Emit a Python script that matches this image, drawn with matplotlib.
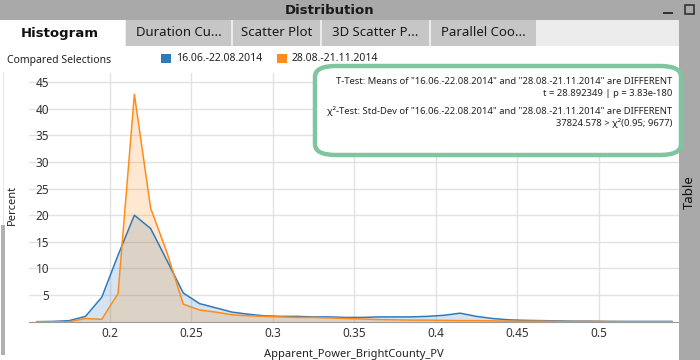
import matplotlib
matplotlib.use('Agg')
import matplotlib.pyplot as plt
from matplotlib.patches import Rectangle, FancyBboxPatch

plt.rcParams['font.family'] = ['Noto Sans', 'DejaVu Sans']

# bin centres of the histogram (Apparent_Power_BrightCounty_PV)
bin_centers = [0.155, 0.165, 0.175, 0.185, 0.195, 0.205, 0.215, 0.225, 0.235, 0.245,
               0.255, 0.265, 0.275, 0.285, 0.295, 0.305, 0.315, 0.325, 0.335, 0.345,
               0.355, 0.365, 0.375, 0.385, 0.395, 0.405, 0.415, 0.425, 0.435, 0.445,
               0.455, 0.465, 0.475, 0.485, 0.495, 0.505, 0.515, 0.525, 0.535, 0.545]

# percent per bin, first selection (blue)
summer_pct = [0.0, 0.05, 0.2, 1.0, 4.6, 12.5, 20.0, 17.5, 11.5, 5.4,
              3.4, 2.6, 1.8, 1.4, 1.1, 1.0, 1.0, 0.9, 0.9, 0.8,
              0.8, 0.9, 0.9, 0.9, 1.0, 1.2, 1.6, 1.0, 0.6, 0.35,
              0.25, 0.2, 0.15, 0.1, 0.1, 0.05, 0.05, 0.05, 0.05, 0.05]

# percent per bin, second selection (orange)
autumn_pct = [0.0, 0.0, 0.0, 0.6, 0.45, 5.3, 42.7, 21.3, 13.0, 3.3,
              2.2, 1.8, 1.3, 1.1, 1.0, 0.9, 0.8, 0.8, 0.7, 0.6,
              0.5, 0.4, 0.35, 0.3, 0.3, 0.25, 0.2, 0.2, 0.15, 0.1,
              0.1, 0.1, 0.05, 0.05, 0.05, 0.05, 0.0, 0.0, 0.0, 0.0]

series_names = ['16.06.-22.08.2014', '28.08.-21.11.2014']
x_ticks = [0.2, 0.25, 0.3, 0.35, 0.4, 0.45, 0.5]
y_ticks = [5, 10, 15, 20, 25, 30, 35, 40, 45]
tab_names = ['Histogram', 'Duration Cu...', 'Scatter Plot', '3D Scatter P...', 'Parallel Coo...']

blue = '#2f7ab9'
orange = '#ff8c1a'

W, H = 700, 360
fig = plt.figure(figsize=(7, 3.6), dpi=100)
fig.patch.set_facecolor('white')


def px_rect(x0, y0, x1, y1, color, z=0):
    # rectangle given in pixel coordinates from the top-left corner
    fig.patches.append(Rectangle((x0 / W, 1 - y1 / H), (x1 - x0) / W, (y1 - y0) / H,
                                 transform=fig.transFigure, facecolor=color,
                                 edgecolor='none', zorder=z))


# window chrome
px_rect(0, 0, 700, 20, '#a9a9a9')
fig.text(330 / W, 1 - 10 / H, 'Distribution', ha='center', va='center',
         fontsize=9.5, fontweight='bold', family='DejaVu Sans', color='#1a1a1a')
px_rect(663, 12, 673, 14, '#333333')
fig.patches.append(Rectangle((685 / W, 1 - 14 / H), 9 / W, 9 / H, transform=fig.transFigure,
                             facecolor='none', edgecolor='#333333', lw=1.2))

px_rect(0, 20, 679, 46, '#ececec')
tab_edges = [(0, 125), (126, 231), (233, 320), (322, 429), (431, 536)]
for i, (name, (a, b)) in enumerate(zip(tab_names, tab_edges)):
    if i == 0:
        px_rect(a, 20, b, 47, 'white')
        fig.text((a + b) / 2 / W - 0.004, 1 - 34 / H, name, ha='center', va='center',
                 fontsize=9.5, fontweight='bold', family='DejaVu Sans', color='#111111')
    else:
        px_rect(a, 20, b, 46, '#c6c6c6')
        fig.text((a + b) / 2 / W, 1 - 33 / H, name, ha='center', va='center',
                 fontsize=9.5, color='#1a1a1a')

px_rect(679, 20, 700, 360, '#a9a9a9')
fig.text(689 / W, 1 - 192 / H, 'Table', rotation=90, ha='center', va='center',
         fontsize=9.5, color='#111111')

# scroll bar on the left
px_rect(1, 225, 5, 355, '#b0b0b0')
px_rect(3, 72, 4, 225, '#e4e4e4')

# legend row
fig.text(7 / W, 1 - 60 / H, 'Compared Selections', ha='left', va='center',
         fontsize=7.5, color='#222222')
px_rect(161, 54, 171, 63, blue, 3)
fig.text(176 / W, 1 - 58.5 / H, series_names[0], ha='left', va='center',
         fontsize=7.5, color='#222222')
px_rect(277, 54, 287, 63, orange, 3)
fig.text(292 / W, 1 - 58.5 / H, series_names[1], ha='left', va='center',
         fontsize=7.5, color='#222222')

# plot area
ax = fig.add_axes([28.5 / W, (H - 321.7) / H, (680 - 28.5) / W, (321.7 - 73) / H])
ax.fill_between(bin_centers, summer_pct, color=blue, alpha=0.2, lw=0)
ax.plot(bin_centers, summer_pct, color=blue, lw=1.1)
ax.fill_between(bin_centers, autumn_pct, color=orange, alpha=0.2, lw=0)
ax.plot(bin_centers, autumn_pct, color=orange, lw=1.1)

ax.set_xlim(0.15, 0.55)
ax.set_ylim(0, 46.7)
ax.set_xticks(x_ticks)
ax.set_xticklabels([str(t) for t in x_ticks])
ax.set_yticks(y_ticks)
ax.grid(True, color='#e2e2e2', lw=1)
ax.set_axisbelow(True)
for side in ['top', 'right', 'left']:
    ax.spines[side].set_visible(False)
ax.spines['bottom'].set_color('#9a9a9a')
ax.tick_params(axis='both', length=0, labelsize=8.5, colors='#333333')
ax.tick_params(axis='y', pad=-15)
ax.tick_params(axis='x', pad=4)
ax.set_ylabel('Percent', fontsize=8, color='#222222')
ax.yaxis.set_label_coords(-0.017, 0.47)
ax.set_xlabel('Apparent_Power_BrightCounty_PV', fontsize=8, color='#222222', labelpad=6)

# statistics box
box = FancyBboxPatch((315 / W, 1 - 155 / H), 366 / W, 89 / H,
                     boxstyle='round,pad=0,rounding_size=0.03', transform=fig.transFigure,
                     facecolor='white', edgecolor='#7fc6a0', lw=3.2, zorder=5)
fig.patches.append(box)
stat_lines = [
    'T-Test: Means of "16.06.-22.08.2014" and "28.08.-21.11.2014" are DIFFERENT',
    't = 28.892349 | p = 3.83e-180',
    'χ²-Test: Std-Dev of "16.06.-22.08.2014" and "28.08.-21.11.2014" are DIFFERENT',
    '37824.578 > χ²(0.95; 9677)',
]
for txt, ypx in zip(stat_lines, [82, 93.5, 111, 123]):
    fig.text(672 / W, 1 - ypx / H, txt, ha='right', va='center', fontsize=6.8,
             color='#222222', zorder=6)

fig.savefig('out.png', dpi=100)
